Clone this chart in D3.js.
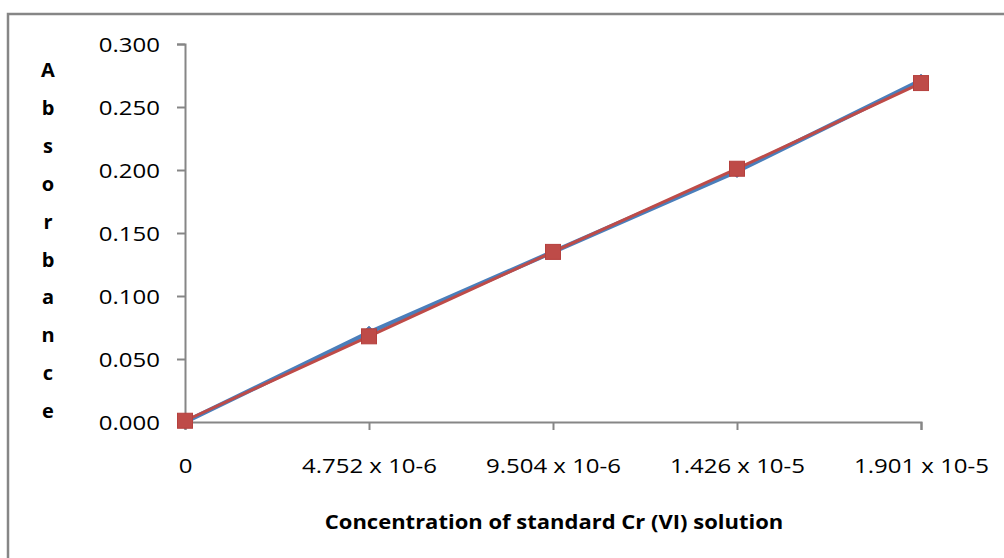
<!DOCTYPE html>
<html>
<head>
<meta charset="utf-8">
<script src="https://cdn.jsdelivr.net/npm/d3@7"></script>
<style>
  body { margin: 0; background: #fff; }
  svg { display: block; }
  text { font-family: "Open Sans", sans-serif; fill: #000; }
</style>
</head>
<body>
<div id="chart"></div>
<script>
const categories = ['0', '4.752 x 10-6', '9.504 x 10-6', '1.426 x 10-5', '1.901 x 10-5'];
const blueValues = [0.000, 0.071, 0.135, 0.199, 0.271];
const redValues = [0.001, 0.068, 0.135, 0.201, 0.269];
const yTicks = [0, 0.05, 0.1, 0.15, 0.2, 0.25, 0.3];
const yTitle = 'Absorbance';
const xTitle = 'Concentration of standard Cr (VI) solution';

const W = 1004, H = 558;
const stretch = 1.2; // text looks horizontally stretched in the original

const svg = d3.select('#chart').append('svg')
  .attr('width', W)
  .attr('height', H);

// outer chart border (right/bottom edges fall off the picture)
svg.append('rect')
  .attr('x', 8).attr('y', 14)
  .attr('width', W + 20).attr('height', H + 20)
  .attr('fill', 'none')
  .attr('stroke', '#868686')
  .attr('stroke-width', 2.5);

const x = d3.scalePoint()
  .domain(categories)
  .range([185, 921]);

const y = d3.scaleLinear()
  .domain([0, 0.3])
  .range([422, 44]);

// y axis
const yAxis = svg.append('g')
  .attr('transform', 'translate(185,0)')
  .call(d3.axisLeft(y).tickValues(yTicks).tickFormat(d3.format('.3f')).tickSize(8).tickPadding(0));
yAxis.select('.domain').attr('stroke', '#868686').attr('stroke-width', 2);
yAxis.selectAll('.tick line').attr('stroke', '#868686').attr('stroke-width', 2);
yAxis.selectAll('.tick text')
  .attr('x', 0)
  .attr('dy', '0.35em')
  .attr('transform', 'translate(-25,0) scale(' + stretch + ',1)')
  .style('font-size', '20px');

// x axis
const xAxis = svg.append('g')
  .attr('transform', 'translate(0,422)')
  .call(d3.axisBottom(x).tickSize(8).tickPadding(0));
xAxis.select('.domain').attr('stroke', '#868686').attr('stroke-width', 2);
xAxis.selectAll('.tick line').attr('stroke', '#868686').attr('stroke-width', 2);
xAxis.selectAll('.tick text')
  .attr('y', 0)
  .attr('dy', '0.35em')
  .attr('transform', 'translate(0,44) scale(' + stretch + ',1)')
  .style('font-size', '20px');

// x title
svg.append('text')
  .attr('transform', 'translate(554,522) scale(1.1,1)')
  .attr('text-anchor', 'middle')
  .attr('dy', '0.35em')
  .style('font-size', '20px')
  .style('font-weight', 'bold')
  .text(xTitle);

// y title, one letter per line
svg.append('g').selectAll('text')
  .data(yTitle.split(''))
  .join('text')
  .attr('x', 48)
  .attr('y', (d, i) => 70 + i * 37.9)
  .attr('text-anchor', 'middle')
  .attr('dy', '0.35em')
  .style('font-size', '20px')
  .style('font-weight', 'bold')
  .text(d => d);

const line = d3.line()
  .x((d, i) => x(categories[i]))
  .y(d => y(d));

// blue series
svg.append('path')
  .datum(blueValues)
  .attr('d', line)
  .attr('fill', 'none')
  .attr('stroke', '#4A7EBB')
  .attr('stroke-width', 4.5);

svg.append('g').selectAll('path')
  .data(blueValues)
  .join('path')
  .attr('d', d3.symbol().type(d3.symbolDiamond2).size(100))
  .attr('transform', (d, i) => 'translate(' + x(categories[i]) + ',' + y(d) + ')')
  .attr('fill', '#4A7EBB')
  .attr('stroke', '#3F6FA8')
  .attr('stroke-width', 1);

// red series
svg.append('path')
  .datum(redValues)
  .attr('d', line)
  .attr('fill', 'none')
  .attr('stroke', '#BE4B48')
  .attr('stroke-width', 3);

svg.append('g').selectAll('rect')
  .data(redValues)
  .join('rect')
  .attr('x', (d, i) => x(categories[i]) - 7.5)
  .attr('y', d => y(d) - 7.5)
  .attr('width', 15)
  .attr('height', 15)
  .attr('fill', '#BE4B48')
  .attr('stroke', '#B5403D')
  .attr('stroke-width', 1);
</script>
</body>
</html>
